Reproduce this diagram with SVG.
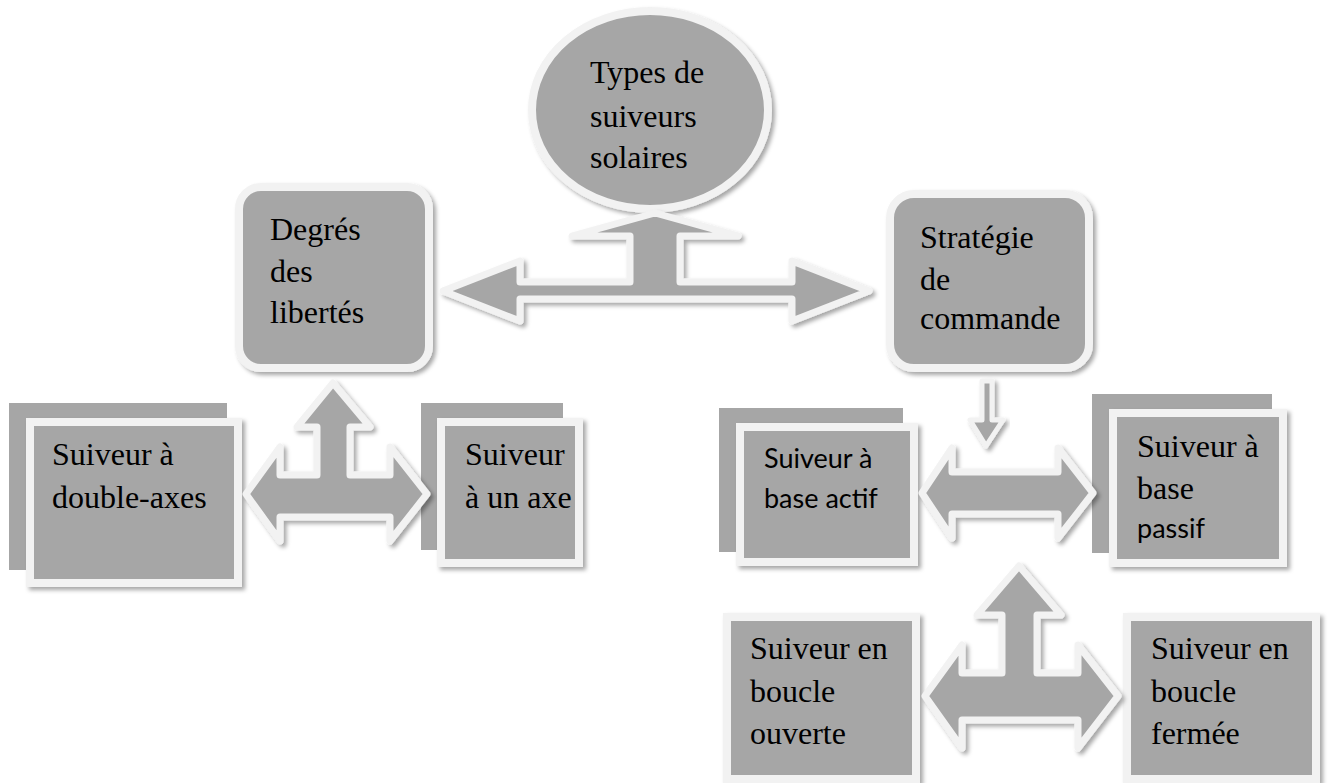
<svg xmlns="http://www.w3.org/2000/svg" width="1330" height="783" viewBox="0 0 1330 783">
<defs>
<filter id="sh" x="-10%" y="-10%" width="130%" height="130%">
<feDropShadow dx="3" dy="3" stdDeviation="2" flood-color="#000" flood-opacity="0.35"/>
</filter>
</defs>
<style>
.n{fill:#a6a6a6;stroke:#f2f2f2;stroke-width:8;filter:url(#sh)}
.b{fill:#a6a6a6}
.a{fill:#a6a6a6;stroke:#f2f2f2;stroke-width:7;stroke-linejoin:round;filter:url(#sh)}
.t{font-family:"Liberation Serif","Times New Roman",serif;font-size:32px;fill:#000}
.c{font-family:Lato,"Liberation Sans",sans-serif;font-size:27px;fill:#000}
</style>
<rect width="1330" height="783" fill="#fff"/>
<g id="types">
<ellipse class="n" cx="650" cy="110" rx="118" ry="99"/>
<text class="t" x="590" y="83">Types de</text>
<text class="t" x="590" y="127">suiveurs</text>
<text class="t" x="590" y="168">solaires</text>
</g>
<g id="degres">
<rect class="n" x="239" y="187" width="190" height="181" rx="22"/>
<text class="t" x="270" y="240">Degrés</text>
<text class="t" x="270" y="282">des</text>
<text class="t" x="270" y="323">libertés</text>
</g>
<g id="strategie">
<rect class="n" x="890" y="194" width="199" height="174" rx="24"/>
<text class="t" x="920" y="248">Stratégie</text>
<text class="t" x="920" y="290">de</text>
<text class="t" x="920" y="329">commande</text>
</g>
<g id="double-axes">
<rect class="b" x="9" y="403" width="218" height="167"/>
<rect class="n" x="30" y="422" width="208" height="161"/>
<text class="t" x="52" y="465">Suiveur à</text>
<text class="t" x="52" y="508">double-axes</text>
</g>
<g id="un-axe">
<rect class="b" x="421" y="403" width="142" height="147"/>
<rect class="n" x="441" y="422" width="138" height="141"/>
<text class="t" x="465" y="465">Suiveur</text>
<text class="t" x="465" y="508">à un axe</text>
</g>
<g id="base-actif">
<rect class="b" x="719" y="408" width="184" height="144"/>
<rect class="n" x="740" y="427" width="174" height="135"/>
<text class="c" x="764" y="468">Suiveur à</text>
<text class="c" x="764" y="508">base actif</text>
</g>
<g id="base-passif">
<rect class="b" x="1092" y="394" width="180" height="159"/>
<rect class="n" x="1113" y="413" width="170" height="150"/>
<text class="t" x="1137" y="457">Suiveur à</text>
<text class="t" x="1137" y="499">base</text>
<text class="c" x="1137" y="538">passif</text>
</g>
<g id="boucle-ouverte">
<rect class="n" x="727" y="617" width="189" height="162"/>
<text class="t" x="750" y="659">Suiveur en</text>
<text class="t" x="750" y="702">boucle</text>
<text class="t" x="750" y="744">ouverte</text>
</g>
<g id="boucle-fermee">
<rect class="n" x="1127" y="617" width="189" height="162"/>
<text class="t" x="1151" y="659">Suiveur en</text>
<text class="t" x="1151" y="702">boucle</text>
<text class="t" x="1151" y="744">fermée</text>
</g>
<g id="connectors">
<path class="a" d="M655,213 L738,236 L680,236 L680,282 L792,282 L792,261 L869,291 L792,321 L792,299 L520,299 L520,321 L443,291 L520,261 L520,282 L630,282 L630,236 L572,236 Z"/>
<path class="a" d="M333,383 L370,427 L350,427 L350,475 L390,475 L390,447 L427,494 L390,541 L390,517 L280,517 L280,541 L246,494 L280,447 L280,475 L317,475 L317,427 L297,427 Z"/>
<path class="a" d="M922,493 L952,448 L952,472 L1058,472 L1058,448 L1093,493 L1058,538 L1058,514 L952,514 L952,538 Z"/>
<path class="a" style="stroke-width:5" d="M982,381 L992,381 L992,420 L1003,420 L986,446 L970,420 L982,420 Z"/>
<path class="a" d="M1019,566 L1061,615 L1037,615 L1037,673 L1078,673 L1078,645 L1118,696 L1078,748 L1078,720 L962,720 L962,748 L925,696 L962,645 L962,673 L1002,673 L1002,615 L977,615 Z"/>
</g>
</svg>
